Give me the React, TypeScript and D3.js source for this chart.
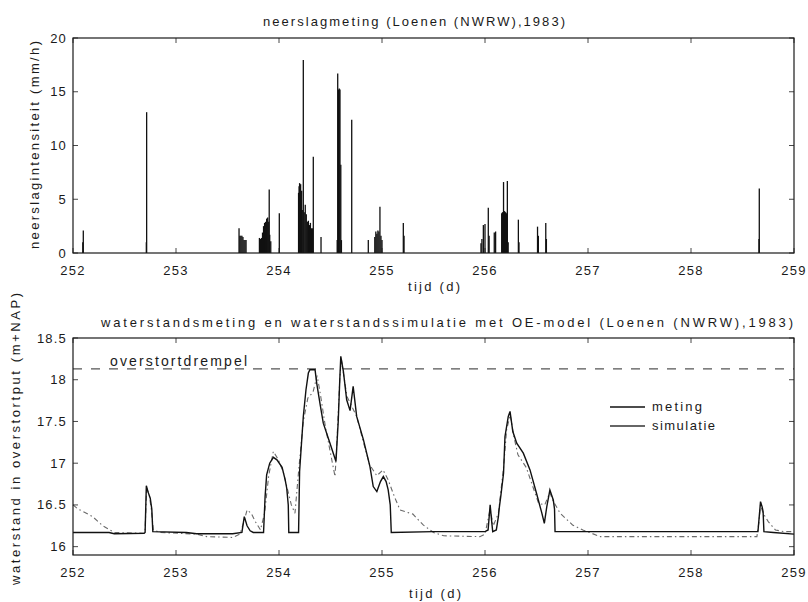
import React from 'react';
import * as d3 from 'd3';

// neerslag (rain intensity), day number and mm/h
const rainDays = [
  252.095, 252.1,
  252.712, 252.715,
  253.612, 253.62, 253.63, 253.64, 253.65, 253.66, 253.67, 253.68,
  253.81, 253.82, 253.83, 253.84, 253.85, 253.86, 253.87, 253.88, 253.89, 253.9, 253.905, 253.91, 253.92,
  254.003,
  254.19, 254.195, 254.2, 254.21, 254.22, 254.226, 254.236, 254.245, 254.255, 254.265, 254.275, 254.285, 254.295, 254.305, 254.315, 254.325, 254.333,
  254.408,
  254.565, 254.57, 254.578, 254.585, 254.592, 254.6, 254.606,
  254.706,
  254.867,
  254.93, 254.94, 254.95, 254.96, 254.97, 254.98, 254.99, 255.0,
  255.207, 255.214,
  255.961, 255.97, 255.984, 256.0, 256.032, 256.04, 256.09, 256.103,
  256.162, 256.17, 256.18, 256.19, 256.2, 256.21, 256.217, 256.225,
  256.324, 256.33,
  256.51, 256.518,
  256.59, 256.596,
  258.66, 258.663,
];
const rainValues = [
  1.0, 2.1,
  1.0, 13.1,
  2.3, 1.6, 1.6, 1.6, 1.5, 1.2, 1.2, 1.2,
  1.4, 1.3, 1.4, 1.9, 2.5, 2.8, 2.9, 3.2, 3.3, 2.9, 5.9, 1.7, 1.1,
  3.7,
  5.6, 6.2, 6.5, 6.4, 5.8, 4.0, 17.95, 3.8, 4.5, 3.6, 2.9, 3.0, 2.6, 2.8, 2.3, 2.3, 8.96,
  1.5,
  1.2, 16.7, 15.2, 15.3, 15.2, 8.2, 1.2,
  12.4,
  1.2,
  1.5, 2.0, 1.8, 2.1, 2.0, 4.3, 1.6, 1.2,
  2.8, 1.6,
  0.9, 1.3, 2.6, 2.7, 4.2, 1.6, 1.9, 2.0,
  3.7, 3.8, 6.6, 3.9, 3.8, 3.7, 6.7, 1.0,
  3.1, 1.0,
  2.45, 1.6,
  2.8, 1.3,
  1.3, 6.0,
];

// waterstand meting (measured)
const metingDays = [
  252.0, 252.35, 252.4, 252.69, 252.7, 252.712, 252.73, 252.75, 252.765, 252.775,
  253.1, 253.2, 253.55, 253.64, 253.663, 253.69, 253.72, 253.75, 253.85,
  253.865, 253.88, 253.91, 253.945, 253.98, 254.03, 254.06, 254.075, 254.09, 254.095,
  254.19, 254.2, 254.236, 254.262, 254.285, 254.3, 254.35, 254.366, 254.4, 254.43, 254.495, 254.553,
  254.575, 254.59, 254.6, 254.625, 254.657, 254.69, 254.72, 254.754, 254.82, 254.883, 254.915, 254.95,
  254.985, 255.013, 255.04, 255.06, 255.08, 255.09,
  255.5, 256.0, 256.03, 256.05, 256.065, 256.075, 256.11, 256.13, 256.14, 256.155, 256.18, 256.194,
  256.226, 256.243, 256.27, 256.308, 256.372, 256.437, 256.5, 256.55, 256.576, 256.6, 256.63, 256.663,
  256.675, 256.68, 257.5, 258.65, 258.675, 258.69, 258.7, 258.708, 258.8, 259.0,
];
const metingLevels = [
  16.17, 16.17, 16.155, 16.16, 16.17, 16.73, 16.65, 16.58, 16.45, 16.18,
  16.17, 16.155, 16.155, 16.17, 16.36, 16.25, 16.19, 16.17, 16.17,
  16.6, 16.86, 17.0, 17.07, 17.04, 16.95, 16.8, 16.7, 16.5, 16.17,
  16.17, 16.9, 17.56, 17.88, 18.08, 18.12, 18.12, 17.96, 17.7, 17.48, 17.24, 17.02,
  17.5, 18.0, 18.28, 18.1, 17.76, 17.63, 17.92, 17.56, 17.28, 16.96, 16.72, 16.66,
  16.78, 16.84, 16.78, 16.68, 16.5, 16.17,
  16.18, 16.18, 16.2, 16.5, 16.3, 16.18, 16.2, 16.36, 16.48, 16.62, 16.88, 17.32,
  17.56, 17.62, 17.38, 17.24, 17.12, 16.92, 16.64, 16.41, 16.28, 16.48, 16.68, 16.56,
  16.45, 16.18, 16.18, 16.18, 16.54, 16.48, 16.42, 16.18, 16.17, 16.15,
];

// waterstand simulatie (OE-model)
const simDays = [
  252.0, 252.05, 252.1, 252.19, 252.29, 252.4, 252.69, 252.7, 252.715, 252.74, 252.76, 252.78, 252.85,
  253.2, 253.3, 253.55, 253.62, 253.66, 253.69, 253.73, 253.77, 253.82,
  253.86, 253.9, 253.945, 253.99, 254.04, 254.08, 254.12, 254.155,
  254.19, 254.236, 254.28, 254.33, 254.37, 254.4, 254.45, 254.544,
  254.56, 254.59, 254.605, 254.63, 254.66, 254.7, 254.754, 254.82, 254.88, 254.95,
  255.01, 255.06, 255.12, 255.175, 255.3, 255.4, 255.5, 255.6, 255.95,
  256.0, 256.05, 256.08, 256.13, 256.18, 256.21, 256.245, 256.28, 256.32, 256.4, 256.52, 256.58,
  256.63, 256.66, 256.73, 256.85, 256.95, 257.12, 258.64, 258.66, 258.675, 258.7, 258.75, 258.82, 258.9, 259.0,
];
const simLevels = [
  16.5, 16.45, 16.42, 16.36, 16.25, 16.17, 16.16, 16.2, 16.7, 16.62, 16.45, 16.2, 16.17,
  16.15, 16.12, 16.11, 16.15, 16.3, 16.44, 16.4, 16.3, 16.2,
  16.4, 16.85, 17.14, 17.05, 16.9, 16.7, 16.5, 16.4,
  16.9, 17.5, 17.78, 17.85, 18.05, 17.84, 17.44, 16.84,
  17.2, 18.0, 18.25, 18.04, 17.8, 17.7, 17.56, 17.25, 16.98, 16.85,
  16.92, 16.8, 16.6, 16.44, 16.39, 16.26, 16.17, 16.13, 16.12,
  16.15, 16.45, 16.25, 16.4, 16.95, 17.4, 17.58, 17.32, 17.1, 16.95, 16.52, 16.5,
  16.65, 16.55, 16.4, 16.26, 16.2, 16.12, 16.12, 16.3, 16.5, 16.4, 16.3, 16.2, 16.18, 16.18,
];

const overstortdrempel = 18.13;

const dayTicks = [252, 253, 254, 255, 256, 257, 258, 259];
const rainTicks = [0, 5, 10, 15, 20];
const levelTicks = [16, 16.5, 17, 17.5, 18, 18.5];

const font = '"Liberation Sans", Arial, sans-serif';
const ink = '#1a1a1a';

function Frame({ x, y, xTicks, yTicks }: any) {
  const [x0, x1] = x.range();
  const [y0, y1] = y.range();
  const t = 5;
  return (
    <g stroke={ink} fill="none">
      <rect x={x0} y={y1} width={x1 - x0} height={y0 - y1} strokeWidth={1.2} />
      {xTicks.map((d: number) => (
        <g key={'x' + d}>
          <line x1={x(d)} x2={x(d)} y1={y0} y2={y0 - t} strokeWidth={0.8} />
          <line x1={x(d)} x2={x(d)} y1={y1} y2={y1 + t} strokeWidth={0.8} />
          <text x={x(d)} y={y0 + 22} textAnchor="middle" stroke="none" fill={ink}
            fontSize={13} letterSpacing={1.2} fontFamily={font}>{d}</text>
        </g>
      ))}
      {yTicks.map((d: number) => (
        <g key={'y' + d}>
          <line x1={x0} x2={x0 + t} y1={y(d)} y2={y(d)} strokeWidth={0.8} />
          <line x1={x1} x2={x1 - t} y1={y(d)} y2={y(d)} strokeWidth={0.8} />
          <text x={x0 - 6} y={y(d)} dy="0.35em" textAnchor="end" stroke="none" fill={ink}
            fontSize={13} letterSpacing={1.2} fontFamily={font}>{d}</text>
        </g>
      ))}
    </g>
  );
}

export default function App() {
  const x1 = d3.scaleLinear().domain([252, 259]).range([73, 794]);
  const yRain = d3.scaleLinear().domain([0, 20]).range([253, 38]);
  const x2 = d3.scaleLinear().domain([252, 259]).range([73, 794]);
  const yLevel = d3.scaleLinear().domain([15.9, 18.5]).range([555, 338]);

  const meting = metingDays.map((d, i) => [d, metingLevels[i]] as [number, number]);
  const sim = simDays.map((d, i) => [d, simLevels[i]] as [number, number]);
  const line = d3.line<[number, number]>().x(d => x2(d[0])).y(d => yLevel(d[1]));

  return (
    <svg width={808} height={602} style={{ position: 'absolute', left: 0, top: 0, background: '#fff' }}>
      {/* bovenste grafiek: neerslag */}
      <text x={414} y={26} textAnchor="middle" fontSize={13} fontFamily={font} fill={ink}
        textLength={302} lengthAdjust="spacing">neerslagmeting (Loenen (NWRW),1983)</text>
      <g>
        {rainDays.map((d, i) => (
          <line key={i} x1={x1(d)} x2={x1(d)} y1={yRain(0)} y2={yRain(rainValues[i])}
            stroke="#111" strokeWidth={1.3} />
        ))}
      </g>
      <Frame x={x1} y={yRain} xTicks={dayTicks} yTicks={rainTicks} />
      <text x={434} y={291} textAnchor="middle" fontSize={13} fontFamily={font} fill={ink}
        textLength={52} lengthAdjust="spacing">tijd (d)</text>
      <text transform="translate(39,145) rotate(-90)" textAnchor="middle" fontSize={13} fontFamily={font}
        fill={ink} textLength={208} lengthAdjust="spacing">neerslagintensiteit (mm/h)</text>

      {/* onderste grafiek: waterstand */}
      <text x={447} y={327} textAnchor="middle" fontSize={13} fontFamily={font} fill={ink}
        textLength={692} lengthAdjust="spacing">waterstandsmeting en waterstandssimulatie met OE-model (Loenen (NWRW),1983)</text>
      <line x1={x2(252)} x2={x2(259)} y1={yLevel(overstortdrempel)} y2={yLevel(overstortdrempel)}
        stroke="#555" strokeWidth={1.1} strokeDasharray="9,9" />
      <text x={110} y={366} fontSize={14} fontFamily={font} fill={ink}
        textLength={137} lengthAdjust="spacing">overstortdrempel</text>
      <path d={line(sim) || ''} fill="none" stroke="#6a6a6a" strokeWidth={1.1}
        strokeDasharray="5,3,1.5,3" />
      <path d={line(meting) || ''} fill="none" stroke="#111" strokeWidth={1.4} />
      <Frame x={x2} y={yLevel} xTicks={dayTicks} yTicks={levelTicks} />
      <g fontFamily={font} fontSize={13} fill={ink}>
        <line x1={610} x2={645} y1={407} y2={407} stroke="#111" strokeWidth={1.3} />
        <text x={652} y={411} textLength={50} lengthAdjust="spacing">meting</text>
        <line x1={610} x2={645} y1={426} y2={426} stroke="#333" strokeWidth={1.3} />
        <text x={652} y={430} textLength={63} lengthAdjust="spacing">simulatie</text>
      </g>
      <text x={435} y={598} textAnchor="middle" fontSize={13} fontFamily={font} fill={ink}
        textLength={52} lengthAdjust="spacing">tijd (d)</text>
      <text transform="translate(20,439) rotate(-90)" textAnchor="middle" fontSize={13} fontFamily={font}
        fill={ink} textLength={292} lengthAdjust="spacing">waterstand in overstortput (m+NAP)</text>
    </svg>
  );
}
